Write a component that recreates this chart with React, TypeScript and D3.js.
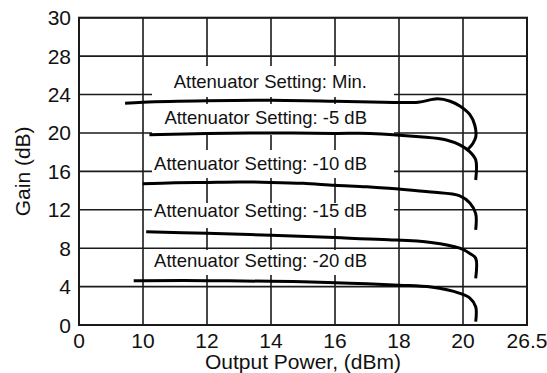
import React from "react";
import * as d3 from "d3";

// ---- data ----
const xTickValues = [0, 10, 12, 14, 16, 18, 20, 26.5];
const yTickValues = [0, 4, 8, 12, 16, 20, 24, 28, 30];

const labelTexts = [
  "Attenuator Setting: Min.",
  "Attenuator Setting: -5 dB",
  "Attenuator Setting: -10 dB",
  "Attenuator Setting: -15 dB",
  "Attenuator Setting: -20 dB",
];

const minPower = [7.2, 10, 12, 14, 16, 17.5, 18.6, 19.2, 19.6, 19.9, 20.7, 21.2, 21.3, 21.0, 20.5];
const minGain = [23.1, 23.2, 23.35, 23.4, 23.3, 23.2, 23.2, 23.55, 23.3, 22.8, 21.9, 20.8, 19.6, 18.9, 18.3];

const m5Power = [10.2, 12, 14, 16, 17.1, 18.65, 19.48, 19.9, 20.68, 21.29, 21.29];
const m5Gain = [19.8, 19.95, 20.0, 19.95, 19.95, 19.6, 19.27, 18.75, 18.05, 17.2, 15.1];

const m10Power = [9.95, 11, 12, 13, 14, 15, 16, 17, 18, 19, 19.9, 20.7, 21.29, 21.29];
const m10Gain = [14.7, 14.8, 14.85, 14.9, 14.85, 14.75, 14.55, 14.4, 14.15, 13.85, 13.45, 12.7, 11.6, 9.9];

const m15Power = [10.1, 12, 14, 16, 17.5, 19, 19.9, 20.7, 21.29, 21.29];
const m15Gain = [9.7, 9.55, 9.35, 9.1, 8.9, 8.6, 8.0, 7.45, 6.95, 4.85];

const m20Power = [8.55, 10, 12, 14, 15, 16, 17, 18, 19, 19.9, 20.7, 21.29, 21.29];
const m20Gain = [4.6, 4.62, 4.62, 4.55, 4.5, 4.4, 4.3, 4.15, 3.95, 3.3, 2.8, 1.9, 0.35];

const seriesPower = [minPower, m5Power, m10Power, m15Power, m20Power];
const seriesGain = [minGain, m5Gain, m10Gain, m15Gain, m20Gain];

// ---- layout ----
const W = 547;
const H = 373;
const left = 79;
const right = 527;
const top = 17.7;
const bottom = 325;
const FONT = "'Liberation Sans', Arial, Helvetica, sans-serif";

// label box layout (pixel), baselines
const labelBaselines = [87.5, 124, 170, 216.7, 266.7];
const boxTops = [66, 104, 150, 203, 250];
const boxBottoms = [97, 135, 178, 228, 275];
const boxLeft = 152;
const boxRight = 394;
const labelRight = 367;

export default function App() {
  const xStep = (right - left) / (xTickValues.length - 1);
  const x = d3
    .scaleLinear()
    .domain(xTickValues)
    .range(xTickValues.map((_, i) => left + i * xStep));
  const yStep = (bottom - top) / (yTickValues.length - 1);
  const y = d3
    .scaleLinear()
    .domain(yTickValues)
    .range(yTickValues.map((_, i) => bottom - i * yStep));

  const line = d3
    .line<[number, number]>()
    .x((d) => x(d[0]))
    .y((d) => y(d[1]))
    .curve(d3.curveCatmullRom.alpha(0.5));

  const gridColor = "#1a1a1a";

  return (
    <svg
      width={W}
      height={H}
      style={{ position: "absolute", left: 0, top: 0, background: "#fff" }}
      fontFamily={FONT}
    >
      <rect x={0} y={0} width={W} height={H} fill="#fff" />
      {/* grid */}
      {xTickValues.map((v, i) => (
        <line
          key={"gx" + i}
          x1={x(v)}
          x2={x(v)}
          y1={top}
          y2={bottom}
          stroke={gridColor}
          strokeWidth={1.6}
        />
      ))}
      {yTickValues.map((v, i) => (
        <line
          key={"gy" + i}
          x1={left}
          x2={right}
          y1={y(v)}
          y2={y(v)}
          stroke={gridColor}
          strokeWidth={1.6}
        />
      ))}
      {/* label boxes hiding grid */}
      {labelTexts.map((_, i) => (
        <rect
          key={"box" + i}
          x={boxLeft}
          y={boxTops[i]}
          width={boxRight - boxLeft}
          height={boxBottoms[i] - boxTops[i]}
          fill="#fff"
        />
      ))}
      {/* frame */}
      <rect
        x={left}
        y={top}
        width={right - left}
        height={bottom - top}
        fill="none"
        stroke={gridColor}
        strokeWidth={2}
      />
      {/* curves */}
      {seriesPower.map((px, i) => {
        const pts = px.map((p, j) => [p, seriesGain[i][j]] as [number, number]);
        return (
          <path
            key={"c" + i}
            d={line(pts) || ""}
            fill="none"
            stroke="#000"
            strokeWidth={3}
            strokeLinejoin="round"
            strokeLinecap="butt"
          />
        );
      })}
      {/* labels */}
      {labelTexts.map((t, i) => (
        <text
          key={"lt" + i}
          x={labelRight}
          y={labelBaselines[i]}
          textAnchor="end"
          fontSize={18.5}
          fill="#111"
        >
          {t}
        </text>
      ))}
      {/* y tick labels */}
      {yTickValues.map((v, i) => (
        <text
          key={"yt" + i}
          x={left - 8}
          y={y(v)}
          dy="0.36em"
          textAnchor="end"
          fontSize={21}
          fill="#111"
        >
          {v}
        </text>
      ))}
      {/* x tick labels */}
      {xTickValues.map((v, i) => (
        <text
          key={"xt" + i}
          x={x(v)}
          y={348}
          textAnchor="middle"
          fontSize={21}
          fill="#111"
        >
          {v}
        </text>
      ))}
      <text
        x={(left + right) / 2}
        y={369}
        textAnchor="middle"
        fontSize={21}
        fill="#111"
      >
        Output Power, (dBm)
      </text>
      <text
        transform={`translate(29.5, ${(top + bottom) / 2}) rotate(-90)`}
        textAnchor="middle"
        fontSize={21}
        fill="#111"
      >
        Gain (dB)
      </text>
    </svg>
  );
}
